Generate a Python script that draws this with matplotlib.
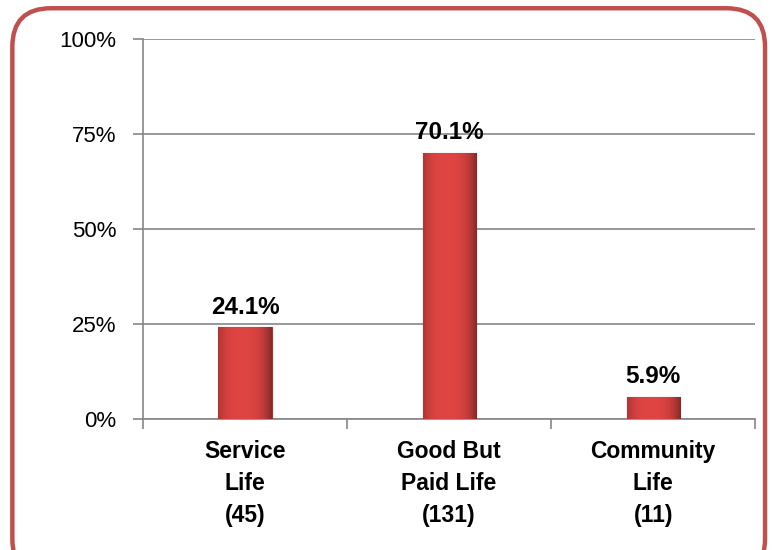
import matplotlib.pyplot as plt
import numpy as np
from matplotlib.patches import FancyBboxPatch

categories = ["Service\nLife\n(45)", "Good But\nPaid Life\n(131)", "Community\nLife\n(11)"]
percentages = [24.1, 70.1, 5.9]
y_ticks = [0, 25, 50, 75, 100]
y_tick_labels = ["0%", "25%", "50%", "75%", "100%"]

GRID = "#868686"
FRAME = "#C0504D"

fig = plt.figure(figsize=(7.72, 5.5), dpi=100)
fig.patch.set_facecolor("white")

# rounded red frame around the whole chart (bottom runs off the image)
frame = FancyBboxPatch((0.016, -0.05), 0.975, 1.035, boxstyle="round,pad=0,rounding_size=0.05",
                       transform=fig.transFigure, facecolor="none", edgecolor=FRAME,
                       linewidth=3.2, mutation_aspect=772 / 550)
fig.patches.append(frame)

ax = fig.add_axes([0.1852, 0.2382, 0.793, 0.691])
x = np.arange(len(categories))
bar_width = 0.26

bars = ax.bar(x, percentages, width=bar_width, color="#D63E3D", edgecolor="#A83030",
              linewidth=0.8, zorder=3)

# horizontal shading on each bar to mimic the bevel look
grad = np.linspace(0, 1, 64)
shade = 1 - 0.3 * (np.abs(grad - 0.45) * 2) ** 3
for b in bars:
    x0, w, h = b.get_x(), b.get_width(), b.get_height()
    rgb = np.array([0.87, 0.27, 0.26])
    img = np.clip(rgb[None, None, :] * shade[None, :, None], 0, 1)
    im = ax.imshow(img, extent=[x0, x0 + w, 0, h], aspect="auto", zorder=3.5,
                   interpolation="bilinear")
    im.set_clip_path(b)

for xi, v in zip(x, percentages):
    ax.annotate(f"{v:.1f}%", (xi, v), xytext=(0, 6), textcoords="offset points",
                ha="center", va="bottom", fontsize=17.5, fontweight="bold",
                family="Liberation Sans", zorder=5)

ax.set_xlim(-0.5, len(categories) - 0.5)
ax.set_ylim(0, 100)
ax.set_yticks(y_ticks)
ax.set_yticklabels(y_tick_labels, fontsize=16, family="Liberation Sans")
ax.yaxis.grid(True, color=GRID, linewidth=1.2, zorder=0)
ax.set_axisbelow(True)

# category labels in the middle, ticks on the boundaries
ax.set_xticks(x)
ax.set_xticklabels(categories, fontsize=16.5, fontweight="bold", family="Liberation Sans",
                   linespacing=1.5)
ax.tick_params(axis="x", length=0, pad=15)
ax.set_xticks(np.arange(-0.5, len(categories)), minor=True)
ax.tick_params(axis="x", which="minor", length=7, color=GRID, width=1.2)
ax.tick_params(axis="y", length=7, color=GRID, width=1.2, pad=12)

for side in ["top", "right"]:
    ax.spines[side].set_visible(False)
for side in ["left", "bottom"]:
    ax.spines[side].set_color(GRID)
    ax.spines[side].set_linewidth(1.2)

fig.savefig("out.png", dpi=100)
